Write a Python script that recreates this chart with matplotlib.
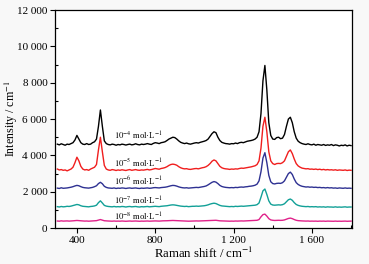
import matplotlib
matplotlib.use("Agg")
import matplotlib.pyplot as plt
from matplotlib.ticker import MultipleLocator, FuncFormatter

plt.rcParams['font.family'] = ['Liberation Serif', 'DejaVu Serif']
plt.rcParams['mathtext.fontset'] = 'stix'

# Raman shift grid (cm^-1), every 10 from 300 to 1800
shift = list(range(300, 1801, 10))

conc_1e4 = [4620, 4580, 4640, 4600, 4560, 4620, 4600, 4650, 4700, 4850,
            5100, 4900, 4700, 4620, 4600, 4650, 4600, 4620, 4700, 4750,
            4900, 5600, 6500, 5600, 4800, 4650, 4600, 4580, 4620, 4600,
            4560, 4600, 4580, 4620, 4600, 4570, 4600, 4620, 4580, 4600,
            4640, 4600, 4580, 4620, 4600, 4620, 4650, 4620, 4600, 4660,
            4700, 4680, 4650, 4700, 4720, 4750, 4820, 4900, 4950, 5000,
            4980, 4900, 4800, 4720, 4680, 4650, 4680, 4640, 4620, 4650,
            4680, 4700, 4680, 4720, 4750, 4780, 4820, 4900, 5050, 5200,
            5300, 5250, 5000, 4820, 4720, 4680, 4650, 4640, 4620, 4650,
            4640, 4680, 4650, 4700, 4720, 4700, 4740, 4780, 4800, 4820,
            4850, 4900, 5000, 5300, 6300, 8100, 8950, 7600, 5800, 5100,
            4900, 4880, 4980, 5000, 4920, 4950, 5150, 5600, 6000, 6100,
            5800, 5300, 4950, 4780, 4700, 4650, 4620, 4600, 4640, 4600,
            4580, 4620, 4560, 4600, 4580, 4560, 4600, 4550, 4580, 4560,
            4600, 4540, 4580, 4560, 4520, 4560, 4540, 4580, 4520, 4560,
            4540]

conc_1e5 = [3250, 3200, 3220, 3180, 3200, 3150, 3200, 3250, 3350, 3600,
            3900, 3700, 3400, 3250, 3200, 3220, 3180, 3250, 3300, 3350,
            3500, 4300, 5000, 4200, 3450, 3250, 3200, 3180, 3220, 3200,
            3170, 3200, 3180, 3210, 3190, 3170, 3200, 3220, 3180, 3200,
            3220, 3190, 3180, 3200, 3190, 3210, 3230, 3200, 3220, 3250,
            3280, 3260, 3240, 3280, 3300, 3330, 3380, 3450, 3500, 3520,
            3500, 3460, 3380, 3320, 3280, 3260, 3270, 3240, 3230, 3250,
            3270, 3280, 3260, 3290, 3320, 3340, 3380, 3450, 3550, 3680,
            3750, 3700, 3550, 3400, 3320, 3280, 3260, 3250, 3230, 3250,
            3240, 3260, 3250, 3280, 3300, 3290, 3310, 3330, 3350, 3370,
            3400, 3430, 3500, 3700, 4400, 5600, 6100, 5300, 4200, 3700,
            3550, 3500, 3550, 3560, 3550, 3600, 3700, 3950, 4200, 4300,
            4100, 3800, 3550, 3420, 3350, 3300, 3280, 3260, 3270, 3240,
            3250, 3230, 3250, 3220, 3240, 3210, 3230, 3200, 3220, 3200,
            3210, 3190, 3210, 3180, 3200, 3190, 3180, 3200, 3170, 3190,
            3180]

conc_1e6 = [2200, 2180, 2220, 2190, 2200, 2210, 2230, 2250, 2280, 2320,
            2350, 2330, 2280, 2240, 2220, 2210, 2200, 2220, 2240, 2280,
            2330, 2450, 2520, 2440, 2300, 2240, 2210, 2200, 2190, 2210,
            2180, 2200, 2190, 2210, 2200, 2180, 2200, 2210, 2190, 2200,
            2210, 2190, 2180, 2200, 2190, 2200, 2210, 2190, 2200, 2220,
            2230, 2220, 2210, 2230, 2240, 2250, 2270, 2300, 2330, 2350,
            2340, 2310, 2270, 2240, 2220, 2210, 2220, 2200, 2210, 2220,
            2230, 2240, 2230, 2250, 2270, 2290, 2320, 2380, 2450, 2520,
            2560, 2530, 2450, 2350, 2290, 2260, 2240, 2230, 2220, 2230,
            2220, 2240, 2230, 2250, 2260, 2250, 2270, 2280, 2300, 2310,
            2330, 2360, 2420, 2600, 3100, 3850, 4150, 3600, 2900, 2550,
            2450, 2430, 2460, 2470, 2460, 2500, 2600, 2800, 3000, 3080,
            2950, 2700, 2500, 2400, 2340, 2300, 2280, 2260, 2270, 2250,
            2260, 2240, 2250, 2230, 2240, 2220, 2230, 2210, 2230, 2210,
            2220, 2200, 2210, 2190, 2210, 2200, 2190, 2210, 2190, 2200,
            2190]

conc_1e7 = [1180, 1160, 1190, 1170, 1180, 1200, 1190, 1210, 1240, 1270,
            1300, 1280, 1230, 1200, 1190, 1180, 1170, 1190, 1200, 1220,
            1260, 1400, 1500, 1380, 1250, 1210, 1190, 1180, 1170, 1190,
            1170, 1180, 1170, 1190, 1180, 1160, 1180, 1190, 1170, 1180,
            1190, 1170, 1160, 1180, 1170, 1180, 1190, 1170, 1180, 1190,
            1200, 1190, 1180, 1200, 1210, 1220, 1230, 1250, 1270, 1280,
            1270, 1250, 1230, 1210, 1200, 1190, 1200, 1180, 1190, 1200,
            1200, 1210, 1200, 1210, 1220, 1230, 1250, 1280, 1320, 1350,
            1370, 1350, 1300, 1250, 1220, 1210, 1200, 1190, 1180, 1190,
            1180, 1200, 1190, 1200, 1210, 1200, 1210, 1220, 1230, 1240,
            1250, 1260, 1290, 1380, 1700, 2050, 2150, 1850, 1500, 1320,
            1270, 1260, 1270, 1280, 1270, 1290, 1340, 1450, 1560, 1600,
            1530, 1400, 1300, 1250, 1220, 1200, 1190, 1180, 1190, 1170,
            1180, 1170, 1180, 1160, 1170, 1160, 1170, 1150, 1170, 1160,
            1160, 1150, 1170, 1150, 1160, 1150, 1160, 1170, 1150, 1160,
            1160]

conc_1e8 = [390, 380, 400, 385, 390, 395, 385, 390, 400, 410,
            420, 410, 400, 390, 385, 390, 380, 390, 395, 400,
            410, 440, 470, 440, 405, 395, 390, 385, 380, 390,
            380, 385, 380, 390, 385, 375, 385, 390, 380, 385,
            390, 380, 375, 385, 380, 385, 390, 380, 385, 390,
            395, 390, 385, 395, 400, 400, 405, 410, 415, 420,
            415, 410, 400, 395, 390, 385, 390, 380, 385, 390,
            390, 395, 390, 395, 400, 400, 405, 410, 420, 430,
            435, 430, 415, 400, 395, 390, 385, 385, 380, 385,
            380, 390, 385, 390, 395, 390, 395, 400, 400, 405,
            410, 415, 430, 470, 620, 740, 770, 660, 520, 450,
            430, 420, 425, 430, 425, 430, 450, 490, 530, 550,
            520, 470, 430, 410, 400, 395, 390, 385, 390, 380,
            385, 380, 385, 375, 385, 380, 385, 375, 385, 380,
            380, 375, 385, 375, 380, 375, 380, 385, 375, 380,
            385]

series = [conc_1e4, conc_1e5, conc_1e6, conc_1e7, conc_1e8]
colors = ['#000000', '#f01e1e', '#2e3192', '#12a097', '#e0218a']
labels = [r'$10^{-4}$ mol·L$^{-1}$', r'$10^{-5}$ mol·L$^{-1}$',
          r'$10^{-6}$ mol·L$^{-1}$', r'$10^{-7}$ mol·L$^{-1}$',
          r'$10^{-8}$ mol·L$^{-1}$']
label_x = 590
label_y = [5080, 3590, 2590, 1490, 620]

fig = plt.figure(figsize=(3.69, 2.64), dpi=100, facecolor='#f8f8f8')
ax = fig.add_axes([0.149, 0.136, 0.805, 0.826])
ax.set_facecolor('white')

for ys, c in zip(series, colors):
    ax.plot(shift, ys, color=c, linewidth=1.0)

for lab, ly in zip(labels, label_y):
    ax.text(label_x, ly, lab, fontsize=6.2, va='center', ha='left')

ax.set_xlim(288, 1805)
ax.set_ylim(0, 12000)
ax.xaxis.set_major_locator(MultipleLocator(400))
ax.xaxis.set_minor_locator(MultipleLocator(200))
ax.yaxis.set_major_locator(MultipleLocator(2000))
ax.yaxis.set_minor_locator(MultipleLocator(1000))

fmt = FuncFormatter(lambda v, p: f"{int(v):,}".replace(",", " "))
ax.xaxis.set_major_formatter(fmt)
ax.yaxis.set_major_formatter(fmt)

ax.tick_params(which='major', direction='out', length=3.5, width=0.8, labelsize=8, pad=2)
ax.tick_params(which='minor', direction='in', length=2.5, width=0.8)
for s in ax.spines.values():
    s.set_linewidth(0.9)

ax.set_xlabel('Raman shift / cm$^{-1}$', fontsize=9.2, labelpad=1)
ax.set_ylabel('Intensity / cm$^{-1}$', fontsize=8.6)
ax.yaxis.set_label_coords(-0.118, 0.5)

fig.savefig('out.png', dpi=100, facecolor=fig.get_facecolor())
